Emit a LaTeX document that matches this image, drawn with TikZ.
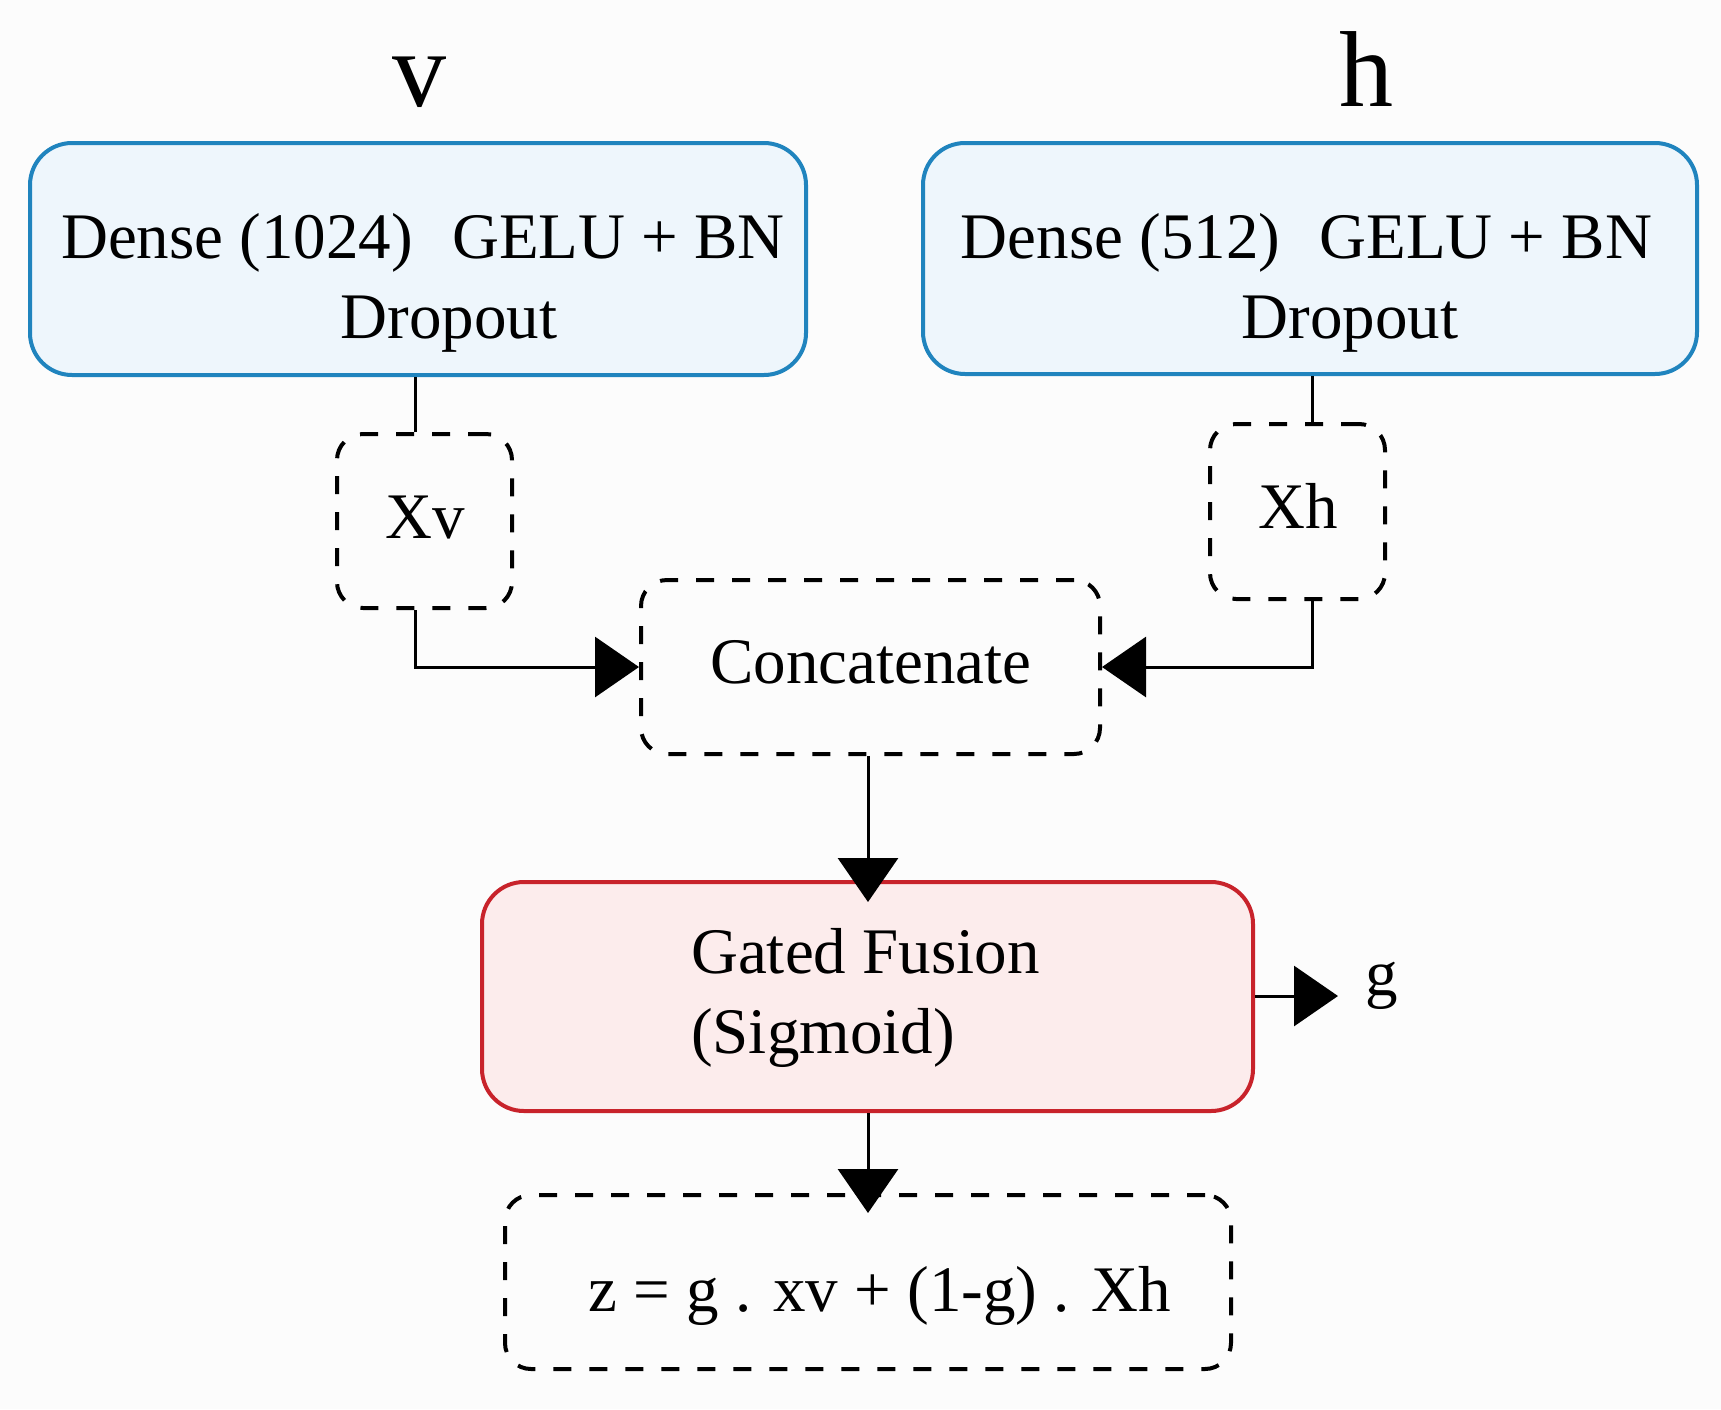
\documentclass[tikz,border=0pt]{standalone}
\usepackage{fontspec}
\setmainfont{Liberation Serif}
\usetikzlibrary{arrows.meta}
\definecolor{bluedge}{RGB}{32,132,190}
\definecolor{bluefill}{RGB}{238,246,252}
\definecolor{rededge}{RGB}{200,35,43}
\definecolor{redfill}{RGB}{252,236,236}
\definecolor{bgcol}{RGB}{252,252,252}
\begin{document}
\begin{tikzpicture}[x=1pt,y=-1pt,
  txt/.style={inner sep=0pt,anchor=base,font=\fontsize{65}{80}\selectfont},
  bigtxt/.style={inner sep=0pt,anchor=base,font=\fontsize{108}{120}\selectfont},
  bluebox/.style={draw=bluedge,fill=bluefill,line width=4pt,rounded corners=42pt,inner sep=0pt},
  redbox/.style={draw=rededge,fill=redfill,line width=4pt,rounded corners=42pt,inner sep=0pt},
  dbox/.style={draw=black,line width=4pt,dash pattern=on 18pt off 18pt,rounded corners=26pt,inner sep=0pt},
  conn/.style={draw=black,line width=3pt},
  arr/.style={conn,-{Triangle[length=44pt,width=60pt]}}
]
\useasboundingbox (0,0) rectangle (1721,1409);
\fill[bgcol] (0,0) rectangle (1721,1409);

% boxes
\node[bluebox,minimum width=776pt,minimum height=232pt] (vbox) at (418,259) {};
\node[bluebox,minimum width=774pt,minimum height=231pt] (hbox) at (1310,258.5) {};
\node[dbox,minimum width=175pt,minimum height=174pt] (xv) at (424.5,521) {};
\node[dbox,minimum width=175pt,minimum height=175pt] (xh) at (1297.5,511.5) {};
\node[dbox,minimum width=459pt,minimum height=174pt] (concat) at (870.5,667) {};
\node[redbox,minimum width=771pt,minimum height=229pt] (gated) at (867.5,996.5) {};
\node[dbox,minimum width=726pt,minimum height=174pt] (zbox) at (868,1282) {};

% texts
\node[bigtxt] (vlab) at (419,106) {v};
\node[bigtxt] (hlab) at (1366,106) {h};
\node[txt] (vt1) at (423,258) {Dense (1024)\hspace{0.6em}GELU + BN};
\node[txt] (vt2) at (449,338) {Dropout};
\node[txt] (ht1) at (1306.5,258) {Dense (512)\hspace{0.6em}GELU + BN};
\node[txt] (ht2) at (1350,338) {Dropout};
\node[txt] (xvt) at (425,538) {Xv};
\node[txt] (xht) at (1298,528) {Xh};
\node[txt] (ct) at (871,683) {Concatenate};
\node[txt,anchor=base west] (gt1) at (691,973) {Gated Fusion};
\node[txt,anchor=base west] (gt2) at (691,1053) {(Sigmoid)};
\node[txt,anchor=base west] (glab) at (1365,995) {g};
\node[txt] (zt) at (880,1311) {z = g . xv + (1-g) . Xh};

% connector guides
\coordinate (vx) at (415,0);
\coordinate (hx) at (1312,0);
\coordinate (mx) at (868,0);
\coordinate (gout) at (1338,996);

% connectors
\draw[conn] (vbox.south -| vx) -- (xv.north -| vx);
\draw[arr] (xv.south -| vx) |- (concat.west);
\draw[conn] (hbox.south -| hx) -- (xh.north -| hx);
\draw[arr] (xh.south -| hx) |- (concat.east);
\draw[arr,shorten >=-22pt] (concat.south -| mx) -- (gated.north -| mx);
\draw[arr,shorten >=-20pt] (gated.south -| mx) -- (zbox.north -| mx);
\draw[arr] (gated.east |- gout) -- (gout);
\end{tikzpicture}
\end{document}
